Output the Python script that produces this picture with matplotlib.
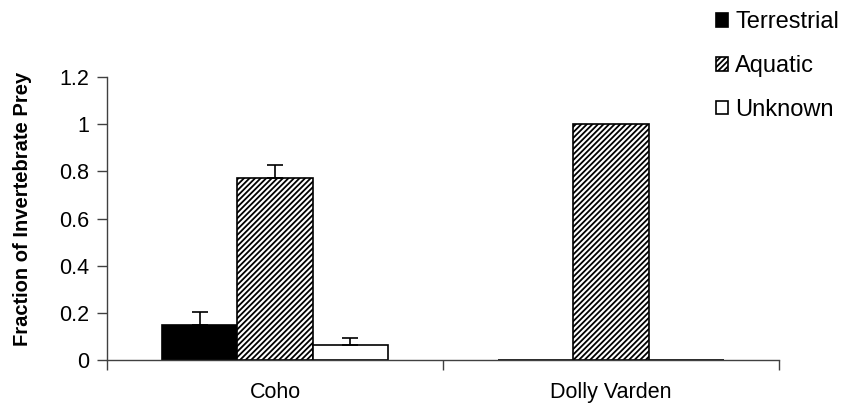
import matplotlib
matplotlib.use("Agg")
import matplotlib.pyplot as plt
import numpy as np

plt.rcParams['font.family'] = ['Liberation Sans', 'DejaVu Sans']
plt.rcParams['hatch.linewidth'] = 1.3

species = ["Coho", "Dolly Varden"]
series = ["Terrestrial", "Aquatic", "Unknown"]
terrestrial = [0.15, 0.0]
aquatic = [0.77, 1.0]
unknown = [0.065, 0.0]
terrestrial_err = [0.055, 0.0]
aquatic_err = [0.055, 0.0]
unknown_err = [0.03, 0.0]
y_ticks = [0, 0.2, 0.4, 0.6, 0.8, 1, 1.2]
y_tick_labels = ["0", "0.2", "0.4", "0.6", "0.8", "1", "1.2"]

values = [terrestrial, aquatic, unknown]
errors = [terrestrial_err, aquatic_err, unknown_err]
styles = [
    dict(color="black", edgecolor="black", hatch=None),
    dict(color="white", edgecolor="black", hatch="//////"),
    dict(color="white", edgecolor="black", hatch=None),
]

fig = plt.figure(figsize=(8.49, 4.09), dpi=100)
ax = fig.add_axes([0.126, 0.1198, 0.7916, 0.6919])

x = np.arange(len(species))
width = 0.224
offsets = [-width, 0.0, width]

for vals, errs, off, st, name in zip(values, errors, offsets, styles, series):
    ax.bar(x + off, vals, width, color=st["color"], edgecolor=st["edgecolor"],
           hatch=st["hatch"], linewidth=1.2, label=name, zorder=2)
    errs = np.array(errs)
    show = errs > 0
    ax.errorbar((x + off)[show], np.array(vals)[show],
                yerr=[np.zeros(show.sum()), errs[show]],
                fmt="none", ecolor="black", elinewidth=1.2,
                capsize=5.8, capthick=1.2, zorder=3)

ax.set_xlim(-0.5, 1.5)
ax.set_ylim(0, 1.2)
ax.set_yticks(y_ticks)
ax.set_yticklabels(y_tick_labels, fontsize=15.5)
ax.set_xticks([-0.5, 0.5, 1.5])
ax.set_xticklabels([])
ax.set_xticks(x, minor=True)
ax.set_xticklabels(species, minor=True, fontsize=15.5)
ax.tick_params(axis="x", which="minor", length=0, pad=16)
ax.tick_params(axis="x", which="major", length=7, width=1, color="#404040", direction="out")
ax.tick_params(axis="y", length=7, width=1, color="#404040", direction="out", pad=6)

for side in ("top", "right"):
    ax.spines[side].set_visible(False)
for side in ("left", "bottom"):
    ax.spines[side].set_color("#404040")
    ax.spines[side].set_linewidth(1)

ax.set_ylabel("Fraction of Invertebrate Prey", fontsize=14.5, fontweight="bold")
ax.yaxis.set_label_coords(-0.112, 0.534)

handles, labels = ax.get_legend_handles_labels()
fig.legend(handles, labels, loc="upper left", bbox_to_anchor=(0.843, 0.972),
           frameon=False, fontsize=17, handlelength=0.52, handleheight=0.52,
           handletextpad=0.3, labelspacing=0.92, borderpad=0, borderaxespad=0)

fig.savefig("out.png", dpi=100)
